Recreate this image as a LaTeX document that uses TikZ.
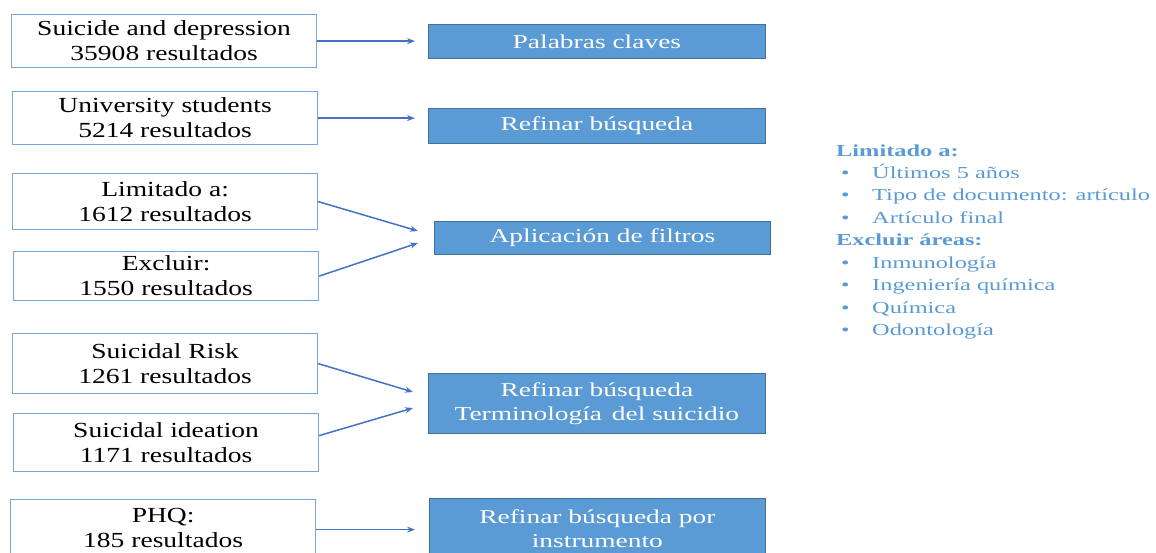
\documentclass[tikz,border=0pt]{standalone}
\usepackage{fontspec}
\setmainfont{Liberation Serif}
\newfontfamily\lfont[FakeStretch=1.28]{Liberation Serif}
\newfontfamily\rfont[FakeStretch=1.4]{Liberation Serif}
\newfontfamily\listfont[FakeStretch=1.45]{Liberation Serif}
\usetikzlibrary{arrows.meta}
\definecolor{boxblue}{RGB}{91,155,213}
\definecolor{boxedge}{RGB}{65,113,156}
\definecolor{arrowblue}{RGB}{68,114,196}
\definecolor{listblue}{RGB}{91,155,213}
\definecolor{lineblue}{RGB}{120,165,220}
\begin{document}
\begin{tikzpicture}[x=1pt,y=-1pt,
 srcbox/.style={draw=lineblue, line width=1.2pt, fill=white, anchor=north west, inner sep=0pt, align=center, text=black, font=\lfont\fontsize{21.5}{25}\selectfont},
 stepbox/.style={draw=boxedge, line width=0.8pt, fill=boxblue, anchor=north west, inner sep=0pt, align=center, text=white, font=\rfont\fontsize{19.6}{24}\selectfont},
 flow/.style={draw=arrowblue, line width=1.5pt, -{Stealth[length=8pt,width=6pt]}},
 listhead/.style={anchor=base west, inner sep=0pt, text=listblue, font=\listfont\bfseries\fontsize{16.8}{20}\selectfont},
 listitem/.style={anchor=base west, inner sep=0pt, text=listblue, font=\listfont\fontsize{16.8}{20}\selectfont},
]
\useasboundingbox (0,0) rectangle (1156,552);
\fill[white] (0,0) rectangle (1156,552);
\clip (0,0) rectangle (1156,552);

% source boxes
\node[srcbox, minimum width=305pt, minimum height=53pt] (s1) at (11,14) {Suicide and depression\\35908 resultados};
\node[srcbox, minimum width=305pt, minimum height=53pt] (s2) at (12,91) {University students\\5214 resultados};
\node[srcbox, minimum width=305pt, minimum height=56pt] (s3) at (12,173) {Limitado a:\\1612 resultados};
\node[srcbox, minimum width=305pt, minimum height=49pt] (s4) at (13,251) {Excluir:\\1550 resultados};
\node[srcbox, minimum width=305pt, minimum height=60pt] (s5) at (12,333) {Suicidal Risk\\1261 resultados};
\node[srcbox, minimum width=305pt, minimum height=58pt] (s6) at (13,413) {Suicidal ideation\\1171 resultados};
\node[srcbox, minimum width=305pt, minimum height=56pt] (s7) at (10,499) {PHQ:\\185 resultados};

% step boxes
\node[stepbox, minimum width=337pt, minimum height=34pt] (r1) at (428,24) {Palabras claves};
\node[stepbox, minimum width=337pt, minimum height=35pt] (r2) at (428,108) {Refinar búsqueda};
\node[stepbox, minimum width=336pt, minimum height=33pt] (r3) at (434,221) {Aplicación de filtros};
\node[stepbox, minimum width=337pt, minimum height=60pt] (r4) at (428,373) {Refinar búsqueda\\Terminología\enspace del suicidio};
\node[stepbox, minimum width=336pt, minimum height=60pt] (r5) at (429,498) {Refinar búsqueda por\\instrumento};

% arrow end points
\coordinate (r3in1) at (418,231);
\coordinate (r3in2) at (418,243);
\coordinate (r4in1) at (413,392);
\coordinate (r4in2) at (413,408);

\draw[flow, shorten >=13pt] (s1.east) -- (s1.east -| r1.west);
\draw[flow, shorten >=13pt] (s2.east) -- (s2.east -| r2.west);
\draw[flow] (s3.east) -- (r3in1);
\draw[flow] (s4.east) -- (r3in2);
\draw[flow] (s5.east) -- (r4in1);
\draw[flow] ([yshift=7pt]s6.east) -- (r4in2);
\draw[flow, shorten >=14pt] ([yshift=-2pt]s7.east) -- ([yshift=-2pt]s7.east -| r5.west);

% side list
\node[listhead] (h1) at (836,156) {Limitado a:};
\node[listitem] (b1) at (841,178) {•};
\node[listitem] (i1) at (872,178) {Últimos 5 años};
\node[listitem] (b2) at (841,200.5) {•};
\node[listitem] (i2) at (872,200.5) {Tipo de documento: artículo};
\node[listitem] (b3) at (841,223) {•};
\node[listitem] (i3) at (872,223) {Artículo final};
\node[listhead] (h2) at (836,245) {Excluir áreas:};
\node[listitem] (b4) at (841,268) {•};
\node[listitem] (i4) at (872,268) {Inmunología};
\node[listitem] (b5) at (841,290.5) {•};
\node[listitem] (i5) at (872,290.5) {Ingeniería química};
\node[listitem] (b6) at (841,313) {•};
\node[listitem] (i6) at (872,313) {Química};
\node[listitem] (b7) at (841,335.5) {•};
\node[listitem] (i7) at (872,335.5) {Odontología};
\end{tikzpicture}
\end{document}
